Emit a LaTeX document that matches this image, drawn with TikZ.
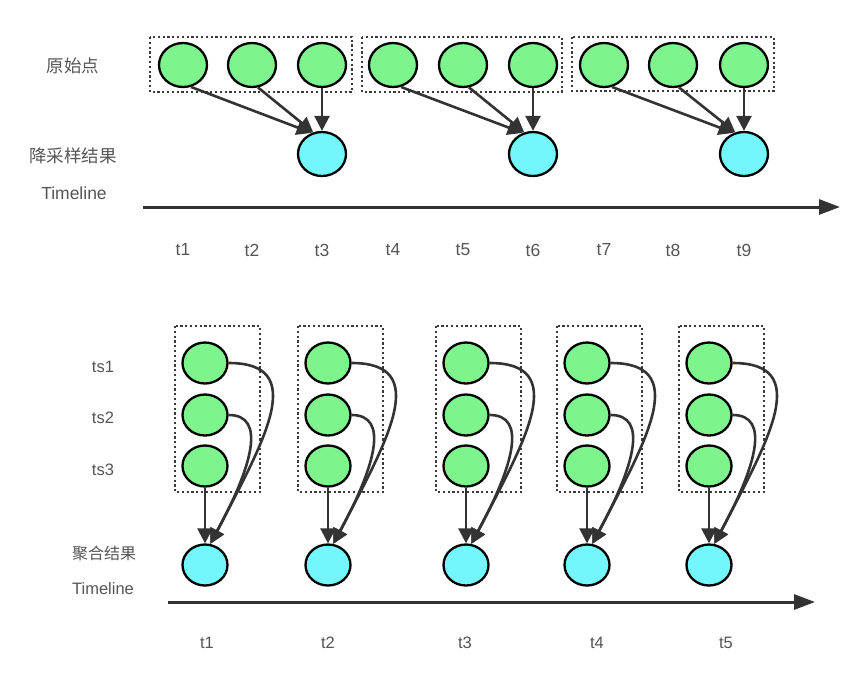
\documentclass[tikz,border=0pt]{standalone}
\usepackage{fontspec}
\setmainfont{Liberation Sans}
\newfontfamily\cjk{Noto Sans CJK SC}
\usetikzlibrary{shapes.geometric,arrows.meta,calc}
\definecolor{gfill}{HTML}{7EF48C}
\definecolor{cfill}{HTML}{73F7FD}
\definecolor{lnc}{HTML}{333333}
\definecolor{dotc}{HTML}{3A3A3A}
\definecolor{txt}{HTML}{555555}
\begin{document}
\begin{tikzpicture}[x=1pt,y=-1pt,
  circtop/.style={ellipse,draw=black,line width=2.3pt,minimum width=48pt,minimum height=44pt,inner sep=0pt},
  circbot/.style={ellipse,draw=black,line width=2.3pt,minimum width=45pt,minimum height=41pt,inner sep=0pt},
  gtop/.style={circtop,fill=gfill},
  ctop/.style={circtop,fill=cfill},
  gbot/.style={circbot,fill=gfill},
  cbot/.style={circbot,fill=cfill},
  dotbox/.style={draw=dotc,line width=2.4pt,dash pattern=on 2.2pt off 2.6pt},
  arr/.style={draw=lnc,line width=2.6pt,-{Triangle[length=15pt,width=15pt]}},
  tline/.style={draw=lnc,line width=3pt,-{Triangle[length=21pt,width=15pt]}},
  lbl/.style={text=txt,font=\fontsize{16.5}{18}\selectfont,inner sep=0pt},
  lblbig/.style={text=txt,font=\fontsize{17.5}{19}\selectfont,inner sep=0pt},
  cjkbig/.style={text=txt,font=\cjk\fontsize{17.5}{19}\selectfont,inner sep=0pt},
  cjksmall/.style={text=txt,font=\cjk\fontsize{16}{18}\selectfont,inner sep=0pt}
]
\useasboundingbox (0,0) rectangle (864,675);

% ---------- top part ----------
\draw[dotbox] (150,37) rectangle (352,92);
\draw[dotbox] (362,37) rectangle (562,92);
\draw[dotbox] (572,37) rectangle (774,91);

\foreach \x [count=\i] in {183,252,322,393,463,533,604,673,744} {
  \node[gtop] (a\i) at (\x,65) {};
  \node[lblbig] (la\i) at (\x,250) {t\i};
}
\node[ctop] (b3) at (322,154) {};
\node[ctop] (b6) at (533,154) {};
\node[ctop] (b9) at (744,154) {};

\foreach \k in {1,2,3} {
  \pgfmathtruncatemacro{\ia}{3*\k-2}
  \pgfmathtruncatemacro{\ib}{3*\k-1}
  \pgfmathtruncatemacro{\ic}{3*\k}
  \draw[arr] (a\ia.290) -- (b\ic.116);
  \draw[arr] (a\ib.285) -- (b\ic.112);
  \draw[arr] (a\ic.south) -- (b\ic.north);
}

\node[cjkbig] (l1) at (73,66) {原始点};
\node[cjkbig] (l2) at (73,156) {降采样结果};
\node[lblbig] (l3) at (74,193) {Timeline};

\coordinate (ts) at (143,207);
\coordinate (te) at (840,207);
\draw[tline] (ts) -- (te);

% ---------- bottom part ----------
\foreach \x/\lx [count=\k] in {205/207,328/328,466/465,587/597,709/726} {
  \draw[dotbox] (\x-30,326) rectangle (\x+55,492);
  \node[gbot] (sa\k) at (\x,363) {};
  \node[gbot] (sb\k) at (\x,415) {};
  \node[gbot] (sc\k) at (\x,466) {};
  \node[cbot] (r\k) at (\x,565) {};
  \node[lbl] (lt\k) at (\lx,643) {t\k};
  \draw[arr] (sc\k.south) -- (r\k.north);
  \draw[arr] (sa\k.east) .. controls +(80,0) and +(55,-105) .. (r\k.76);
  \draw[arr] (sb\k.east) .. controls +(38,0) and +(42,-78) .. (r\k.76);
}

\node[lbl] (m1) at (103,367) {ts1};
\node[lbl] (m2) at (103,418) {ts2};
\node[lbl] (m3) at (103,470) {ts3};
\node[cjksmall] (m4) at (104,553) {聚合结果};
\node[lbl] (m5) at (103,589) {Timeline};

\coordinate (bs) at (168,602);
\coordinate (be) at (815,602);
\draw[tline] (bs) -- (be);
\end{tikzpicture}
\end{document}
